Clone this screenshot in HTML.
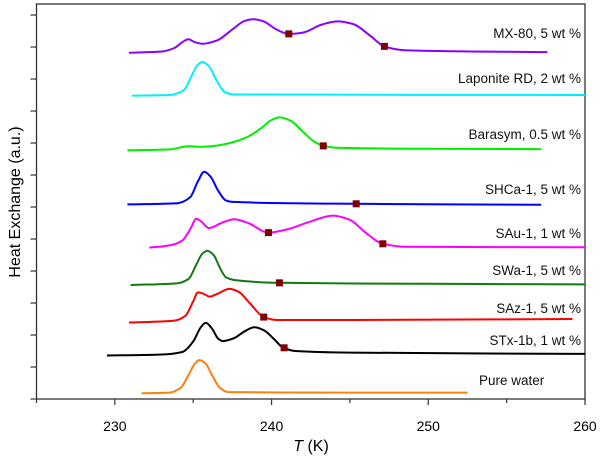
<!DOCTYPE html>
<html><head><meta charset="utf-8"><style>
body{margin:0;background:#fff;}
svg{display:block;font-family:"Liberation Sans",Arial,sans-serif;}
</style></head><body>
<svg id="chart" width="600" height="459" viewBox="0 0 600 459" xmlns="http://www.w3.org/2000/svg">
<g id="axes"></g>
<g id="series"></g>
<g id="labels"></g>
<text x="0" y="0" transform="translate(20,202) rotate(-90)" text-anchor="middle" font-size="16">Heat Exchange (a.u.)</text>
<text x="311" y="451" text-anchor="middle" font-size="16"><tspan font-style="italic">T</tspan> (K)</text>
</svg>
<script>
const xTicks = [230, 240, 250, 260];
const xMinorTicks = [225, 235, 245, 255];
const yTicks = [0,1,2,3,4,5,6,7,8,9,10,11,12];
const seriesNames = ["Pure water","STx-1b, 1 wt %","SAz-1, 5 wt %","SWa-1, 5 wt %","SAu-1, 1 wt %","SHCa-1, 5 wt %","Barasym, 0.5 wt %","Laponite RD, 2 wt %","MX-80, 5 wt %"];
const seriesColors = ["#ff7f0e","#000000","#ff0000","#117a11","#ff00ff","#0000ff","#00ee00","#00eeff","#8b00ff"];
const labelY = [389,349,317,279,242,198,143,87,42];
const pureWater = [[231.7,0.18],[233.5,0.2],[234.2,0.35],[234.7,0.75],[235.1,1.1],[235.4,1.22],[235.8,1.1],[236.2,0.75],[236.7,0.35],[237.2,0.22],[245,0.2],[252.5,0.2]];
const stx = [[229.5,1.36],[233,1.39],[234.3,1.47],[235,1.8],[235.5,2.25],[235.8,2.38],[236.2,2.2],[236.6,1.88],[236.9,1.81],[237.6,1.9],[238.3,2.12],[238.9,2.24],[239.5,2.15],[240.2,1.85],[240.7,1.62],[241.5,1.5],[245,1.45],[260,1.41]];
const saz = [[230.9,2.39],[233.8,2.45],[234.5,2.6],[235,3.05],[235.3,3.33],[235.6,3.3],[236.05,3.2],[236.6,3.3],[237.3,3.44],[237.9,3.35],[238.6,3.0],[239.5,2.56],[240.3,2.47],[245,2.47],[259.2,2.5]];
const swa = [[231,3.56],[234,3.62],[234.7,3.75],[235.2,4.2],[235.6,4.55],[235.9,4.63],[236.3,4.5],[236.7,4.1],[237.1,3.8],[237.6,3.72],[240.5,3.63],[250,3.6],[260,3.58]];
const sau = [[232.2,4.73],[233.5,4.8],[234.3,4.95],[234.8,5.3],[235.2,5.63],[235.5,5.55],[236,5.34],[236.8,5.5],[237.6,5.62],[238.5,5.5],[239.8,5.2],[241,5.3],[242.5,5.55],[243.9,5.73],[245,5.6],[246,5.2],[247.1,4.85],[248.5,4.76],[260,4.74]];
const shca = [[230.8,6.08],[234,6.12],[234.8,6.3],[235.3,6.8],[235.7,7.1],[236.1,6.95],[236.6,6.5],[237.1,6.2],[237.5,6.16],[245.4,6.1],[257.2,6.07]];
const barasym = [[230.8,7.77],[233.5,7.8],[234.7,7.9],[235.5,7.88],[236.5,7.92],[237.5,8.02],[238.5,8.2],[239.3,8.45],[240,8.72],[240.5,8.8],[241.2,8.7],[242,8.35],[242.7,8.05],[243.3,7.91],[244.2,7.85],[250,7.82],[257.2,7.81]];
const laponite = [[231.1,9.48],[233.5,9.5],[234.4,9.65],[234.9,10.1],[235.3,10.45],[235.6,10.53],[236,10.4],[236.5,9.95],[237,9.6],[237.5,9.52],[260,9.5]];
const mx80 = [[230.9,10.82],[233,10.86],[233.8,10.97],[234.3,11.15],[234.7,11.24],[235.1,11.15],[235.6,11.1],[236.5,11.2],[237.5,11.55],[238.3,11.82],[238.8,11.87],[239.5,11.8],[240.3,11.55],[241.1,11.41],[242,11.45],[243.2,11.7],[244.2,11.8],[245.2,11.72],[246.3,11.35],[247.2,11.02],[248.5,10.9],[257.6,10.84]];
const seriesData = [pureWater, stx, saz, swa, sau, shca, barasym, laponite, mx80];
const markerData = [[],[[240.8,1.6]],[[239.5,2.56]],[[240.5,3.63]],[[239.8,5.2],[247.1,4.85]],[[245.4,6.1]],[[243.3,7.91]],[],[[241.1,11.41],[247.2,11.02]]];

const NS = "http://www.w3.org/2000/svg";
const X0 = 36.5, X1 = 585, Y0 = 399, Y1 = 15;
function xs(t){ return X0 + (t - 225) / (260 - 225) * (X1 - X0); }
function ys(v){ return Y0 - v / 12 * (Y0 - Y1); }
function mk(tag, attrs){ const e = document.createElementNS(NS, tag); for (const k in attrs) e.setAttribute(k, attrs[k]); return e; }

const axes = document.getElementById('axes');
const frame = mk('rect', {x: X0, y: 4, width: X1 - X0, height: Y0 - 4, fill: 'none', stroke: '#333', 'stroke-width': 1.3});


axes.appendChild(frame);
xTicks.forEach(t => {
  const l = mk('line', {x1: xs(t), x2: xs(t), y1: Y0, y2: Y0 + 6, stroke: '#333', 'stroke-width': 1.2});
  
  
  axes.appendChild(l);
  const tx = mk('text', {x: xs(t), y: 431, 'text-anchor': 'middle', 'font-size': 14});
  tx.textContent = t;
  
  
  axes.appendChild(tx);
});
xMinorTicks.forEach(t => {
  const l = mk('line', {x1: xs(t), x2: xs(t), y1: Y0, y2: Y0 + 4, stroke: '#333', 'stroke-width': 1.2});
  
  
  axes.appendChild(l);
});
yTicks.forEach(v => {
  const l = mk('line', {x1: X0 - 6, x2: X0, y1: ys(v), y2: ys(v), stroke: '#333', 'stroke-width': 1.2});
  
  
  axes.appendChild(l);
});

// monotone cubic (Fritsch-Carlson) interpolation, no overshoot
function smoothPath(pts){
  const p = pts.map(d => [xs(d[0]), ys(d[1])]);
  const n = p.length;
  const dx = [], dy = [], sl = [];
  for (let i = 0; i < n - 1; i++){ dx[i] = p[i+1][0] - p[i][0]; dy[i] = p[i+1][1] - p[i][1]; sl[i] = dy[i] / dx[i]; }
  const m = [];
  m[0] = sl[0]; m[n-1] = sl[n-2];
  for (let i = 1; i < n - 1; i++){
    if (sl[i-1] * sl[i] <= 0) m[i] = 0;
    else { const w1 = 2*dx[i] + dx[i-1], w2 = dx[i] + 2*dx[i-1]; m[i] = (w1 + w2) / (w1 / sl[i-1] + w2 / sl[i]); }
  }
  let s = 'M' + p[0][0].toFixed(1) + ',' + p[0][1].toFixed(1);
  for (let i = 0; i < n - 1; i++){
    const h = dx[i] / 3;
    s += ' C' + (p[i][0] + h).toFixed(1) + ',' + (p[i][1] + m[i]*h).toFixed(1) + ' ' + (p[i+1][0] - h).toFixed(1) + ',' + (p[i+1][1] - m[i+1]*h).toFixed(1) + ' ' + p[i+1][0].toFixed(1) + ',' + p[i+1][1].toFixed(1);
  }
  return s;
}

const sg = document.getElementById('series');
const lg = document.getElementById('labels');
seriesData.forEach((data, i) => {
  const path = mk('path', {d: smoothPath(data), fill: 'none', stroke: seriesColors[i], 'stroke-width': 2});
  
  
  sg.appendChild(path);
  markerData[i].forEach(m => {
    const r = mk('rect', {x: xs(m[0]) - 3.5, y: ys(m[1]) - 3.5, width: 7, height: 7, fill: '#800000'});
    
    
    sg.appendChild(r);
  });
  const isPure = i === 0;
  const t = mk('text', {x: isPure ? 479 : 581, y: labelY[i] - 4, 'text-anchor': isPure ? 'start' : 'end', 'font-size': 13.5, fill: '#111'});
  t.textContent = seriesNames[i];
  
  
  lg.appendChild(t);
});
</script>
</body></html>
